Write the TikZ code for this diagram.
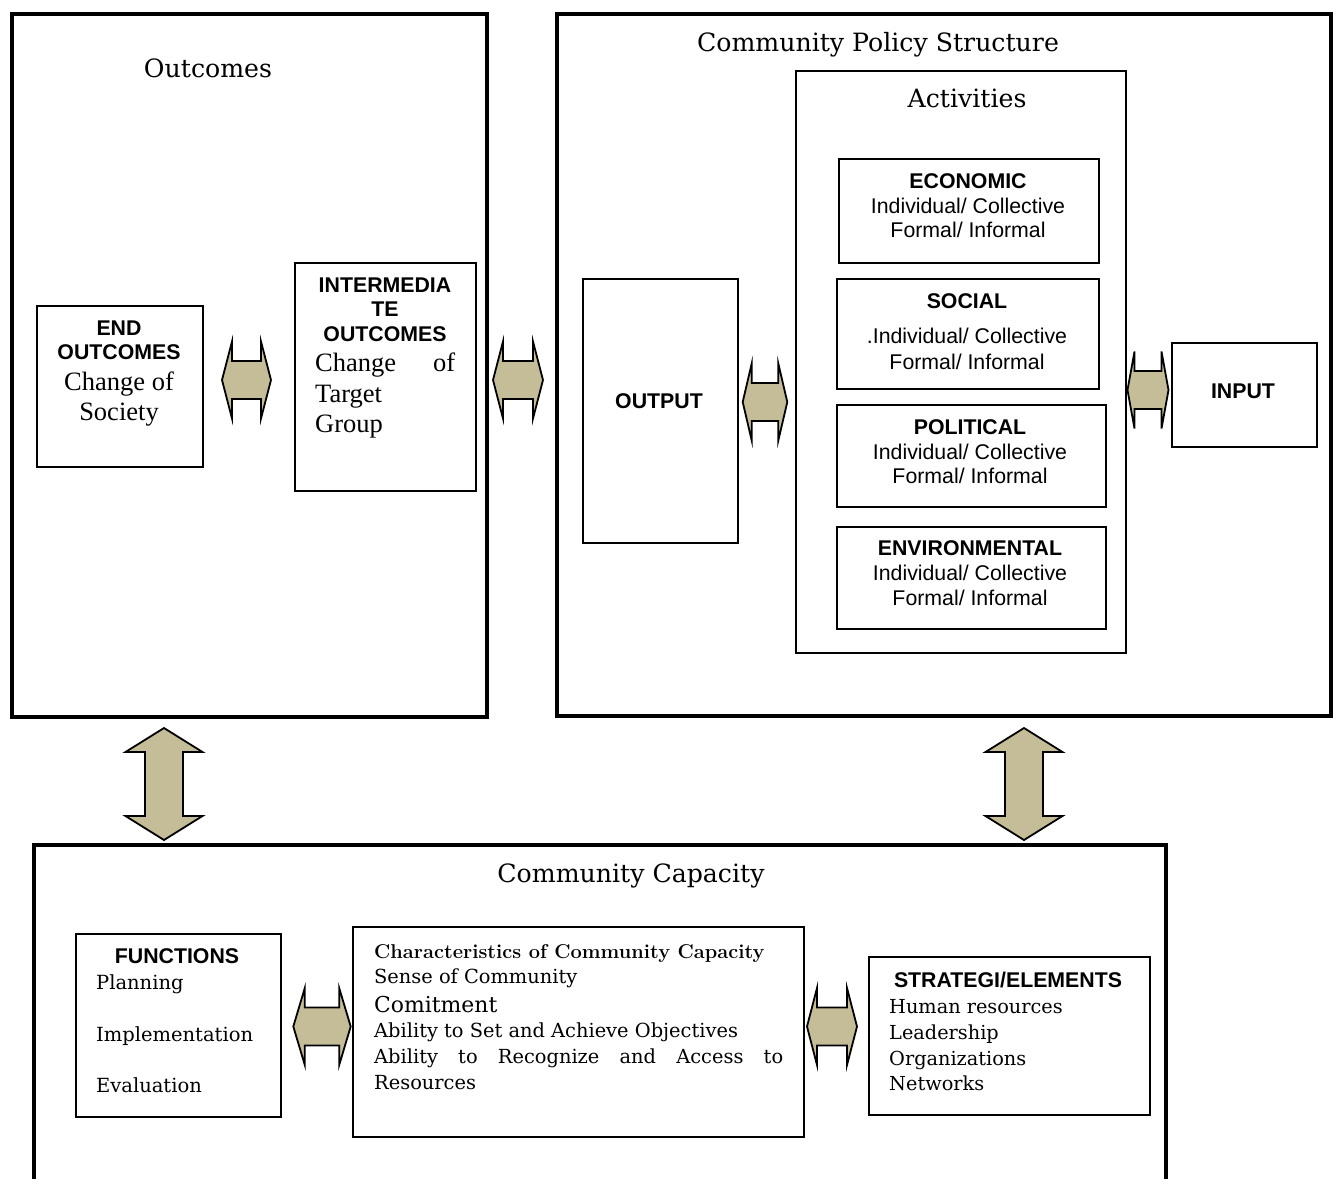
\documentclass[tikz,border=0pt]{standalone}
\usepackage{fontspec}
\newfontfamily\arialf{Liberation Sans}
\newfontfamily\timesf{Liberation Serif}
\newfontfamily\bookf{DejaVu Serif}
\definecolor{arrowtan}{HTML}{C4BD97}
% wide book-style serif for titles and lists
\newcommand\cent[2]{{\bookf\fontsize{#1}{#1}\selectfont #2}}
\newcommand\tms{\timesf\fontsize{26.5}{26.5}\selectfont}

\begin{document}
\begin{tikzpicture}[x=1pt,y=-1pt,
  frame/.style={draw, line width=4pt, inner sep=0pt, anchor=north west},
  box/.style={draw, line width=1.6pt, inner sep=0pt, anchor=north west},
  lbl/.style={inner sep=0pt, anchor=base},
  lbll/.style={inner sep=0pt, anchor=base west},
  hd/.style={lbl, font=\arialf\bfseries\fontsize{21.3}{21.3}\selectfont},
  sf/.style={lbl, font=\arialf\fontsize{21.3}{21.3}\selectfont},
  arrowbody/.style={draw, fill=arrowtan, line width=1.8pt, line join=miter},
  pics/hdbl/.style n args={2}{code={
    \draw[arrowbody] (-#1,0) -- ({-#1+#2},-38.5) -- ({-#1+#2},-19) -- ({#1-#2},-19)
      -- ({#1-#2},-38.5) -- (#1,0) -- ({#1-#2},38.5) -- ({#1-#2},19)
      -- ({-#1+#2},19) -- ({-#1+#2},38.5) -- cycle;}},
  pics/vdbl/.style={code={
    \draw[arrowbody] (0,-56) -- (38.5,-32) -- (19,-32) -- (19,32) -- (38.5,32)
      -- (0,56) -- (-38.5,32) -- (-19,32) -- (-19,-32) -- (-38.5,-32) -- cycle;}},
]
\useasboundingbox (0,0) rectangle (1338,1178);

% ---------- outer frames ----------
\node[frame, minimum width=475pt, minimum height=703pt] (outcomes) at (10,12) {};
\node[frame, minimum width=774pt, minimum height=702pt] (policy) at (555,12) {};
\node[frame, minimum width=1132pt, minimum height=400pt] (capacity) at (32,843) {};

\node[lbl] (outcomesT) at (208,77) {\cent{25.2}{Outcomes}};
\node[lbl] (policyT) at (878,51) {\cent{25.2}{Community Policy Structure}};
\node[lbl] (capacityT) at (631,882) {\cent{25.2}{Community Capacity}};

% ---------- outcomes ----------
\node[box, minimum width=166pt, minimum height=161pt] (endout) at (36,305) {};
\node[hd] at (119,335) {END};
\node[hd] at (119,359) {OUTCOMES};
\node[lbl, font=\tms] at (119,390) {Change of};
\node[lbl, font=\tms] at (119,420) {Society};

\node[box, minimum width=181pt, minimum height=228pt] (interout) at (294,262) {};
\node[hd] at (385,292) {INTERMEDIA};
\node[hd] at (385,316) {TE};
\node[hd] at (385,341) {OUTCOMES};
\node[lbll, font=\tms] at (315,371) {\makebox[140pt][s]{Change of}};
\node[lbll, font=\tms] at (315,402) {Target};
\node[lbll, font=\tms] at (315,432) {Group};

% ---------- policy structure ----------
\node[box, minimum width=155pt, minimum height=264pt] (output) at (582,278) {};
\node[hd] at (659,408) {OUTPUT};

\node[box, minimum width=330pt, minimum height=582pt] (activities) at (795,70) {};
\node[lbl] (activitiesT) at (967,107) {\cent{25.2}{Activities}};

\node[box, minimum width=260pt, minimum height=104pt] (economic) at (838,158) {};
\node[hd] at (968,188) {ECONOMIC};
\node[sf] at (968,213) {Individual/ Collective};
\node[sf] at (968,237) {Formal/ Informal};

\node[box, minimum width=262pt, minimum height=110pt] (social) at (836,278) {};
\node[hd] at (967,308) {SOCIAL};
\node[sf] at (967,343) {.Individual/ Collective};
\node[sf] at (967,369) {Formal/ Informal};

\node[box, minimum width=269pt, minimum height=102pt] (political) at (836,404) {};
\node[hd] at (970,434) {POLITICAL};
\node[sf] at (970,459) {Individual/ Collective};
\node[sf] at (970,483) {Formal/ Informal};

\node[box, minimum width=269pt, minimum height=102pt] (environmental) at (836,526) {};
\node[hd] at (970,555) {ENVIRONMENTAL};
\node[sf] at (970,580) {Individual/ Collective};
\node[sf] at (970,605) {Formal/ Informal};

\node[box, minimum width=145pt, minimum height=104pt] (input) at (1171,342) {};
\node[hd] at (1243,398) {INPUT};

% ---------- community capacity ----------
\node[box, minimum width=205pt, minimum height=183pt] (functions) at (75,933) {};
\node[hd] at (177,963) {FUNCTIONS};
\node[lbll] at (96,989) {\cent{19.5}{Planning}};
\node[lbll] at (96,1041) {\cent{19.5}{Implementation}};
\node[lbll] at (96,1092) {\cent{19.5}{Evaluation}};

\node[box, minimum width=451pt, minimum height=210pt] (characteristics) at (352,926) {};
\node[lbll] at (374,958) {\fontsize{20}{20}\selectfont\bfseries Characteristics of Community Capacity};
\node[lbll] at (374,983) {\cent{19.4}{Sense of Community}};
\node[lbll] at (374,1012) {\cent{21.9}{Comitment}};
\node[lbll] at (374,1037) {\cent{19.4}{Ability to Set and Achieve Objectives}};
\node[lbll] at (374,1063) {\cent{19.4}{\makebox[409pt][s]{Ability to Recognize and Access to}}};
\node[lbll] at (374,1089) {\cent{19.4}{Resources}};

\node[box, minimum width=281pt, minimum height=158pt] (strategies) at (868,956) {};
\node[hd] at (1008,987) {STRATEGI/ELEMENTS};
\node[lbll] at (889,1013) {\cent{19.3}{Human resources}};
\node[lbll] at (889,1039) {\cent{19.3}{Leadership}};
\node[lbll] at (889,1065) {\cent{19.3}{Organizations}};
\node[lbll] at (889,1090) {\cent{19.3}{Networks}};

% ---------- two-way block arrows ----------
\pic (endInter) at (246.5,380) {hdbl={24.5}{10}};
\pic (interOutput) at (518,380) {hdbl={25}{10}};
\pic (outputAct) at (765,402) {hdbl={22.3}{9}};
\pic (actInput) at (1148,390) {hdbl={20.5}{7}};
\pic (funcChar) at (322,1026.5) {hdbl={28.7}{11.5}};
\pic (charStrat) at (832,1026.5) {hdbl={25}{10}};
\pic (outcomesCap) at (164,784) {vdbl};
\pic (policyCap) at (1024,784) {vdbl};
\end{tikzpicture}
\end{document}
